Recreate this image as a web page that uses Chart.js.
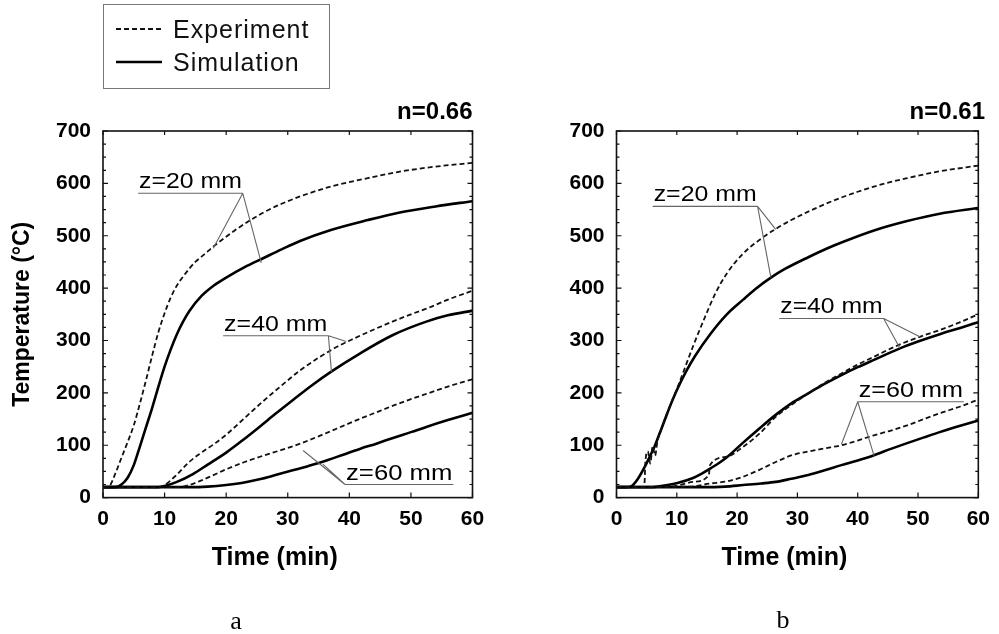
<!DOCTYPE html>
<html>
<head>
<meta charset="utf-8">
<script src="https://cdn.jsdelivr.net/npm/chart.js@4.4.1/dist/chart.umd.min.js"></script>
<style>
  body { margin: 0; background: #fff; }
  #page { position: relative; width: 999px; height: 634px; overflow: hidden; font-family: "Liberation Sans", Arial, sans-serif; }
  .panel { position: absolute; top: 0; }
  #legend { position: absolute; left: 103px; top: 4px; width: 227px; height: 85px; box-sizing: border-box; border: 1px solid #777; }
  .row { position: absolute; left: 12px; height: 30px; display: flex; align-items: center; font-size: 25px; letter-spacing: 1px; color: #111; }
  .row svg { margin-right: 11px; }
  .sub { position: absolute; font-family: "Liberation Serif", "Times New Roman", serif; font-size: 26px; transform: translate(-50%, -50%); }
</style>
</head>
<body>
<div id="page">
  <div class="panel" style="left:0;width:500px;height:634px"><canvas id="chartA" width="500" height="634"></canvas></div>
  <div class="panel" style="left:500px;width:499px;height:634px"><canvas id="chartB" width="499" height="634"></canvas></div>
  <div id="legend">
    <div class="row" style="top:9px"><svg width="46" height="4"><line x1="0" y1="2" x2="46" y2="2" stroke="#111" stroke-width="1.8" stroke-dasharray="5 3"/></svg>Experiment</div>
    <div class="row" style="top:42px"><svg width="46" height="4"><line x1="0" y1="2" x2="46" y2="2" stroke="#000" stroke-width="2.6"/></svg>Simulation</div>
  </div>
  <div class="sub" style="left:236px;top:621px">a</div>
  <div class="sub" style="left:783px;top:620px">b</div>
</div>
<script>
// time (min) / temperature (°C)

// panel a, n=0.66
const tExpA20 = [0, 1, 2, 3, 4, 5, 6, 7, 8, 9, 10, 11, 12, 13, 14, 15, 16.5, 18, 22, 26, 29, 32, 37, 43, 48, 54, 60];
const TExpA20 = [20, 22, 46, 76, 106, 138, 180, 225, 272, 316, 352, 382, 405, 422, 437, 450, 465, 480, 515, 544, 561, 575, 594, 610, 622, 632, 639];
const tSimA20 = [0, 2, 3, 4, 5, 6, 7, 8, 9, 10, 11, 12, 13, 14, 16, 18, 20, 23, 26, 29, 32, 37, 43, 48, 54, 60];
const TSimA20 = [20, 20, 25, 38, 62, 98, 135, 172, 212, 250, 283, 312, 336, 356, 385, 405, 420, 440, 457, 474, 490, 511, 530, 544, 556, 566];
const tExpA40 = [0, 9, 10, 12, 14, 16, 18, 20, 23, 26, 29, 32, 35, 38, 41, 44, 47, 50, 53, 56, 60];
const TExpA40 = [20, 20, 24, 44, 68, 86, 102, 120, 152, 184, 214, 243, 267, 288, 305, 321, 336, 350, 363, 378, 395];
const tSimA40 = [0, 9, 10, 12, 14.6, 17, 20, 22.5, 25.4, 28, 30.8, 34, 37, 41.7, 47, 52.5, 56, 60];
const TSimA40 = [20, 20, 22, 30, 45, 63, 86, 108, 135, 160, 186, 215, 240, 275, 310, 336, 348, 357];
const tExpA60 = [0, 12, 14, 17, 20, 23, 26, 29, 32, 35, 38, 41, 44, 47, 50, 53, 56, 60];
const TExpA60 = [20, 20, 24, 38, 54, 68, 80, 91, 103, 117, 132, 147, 161, 175, 188, 200, 212, 226];
const tSimA60 = [0, 14, 17, 20, 22.5, 25.4, 28, 30.8, 33.5, 36.3, 39, 41.7, 44.5, 47.1, 50, 52.5, 56, 60];
const TSimA60 = [20, 20, 21, 24, 28, 35, 43, 52, 61, 71, 82, 93, 103.5, 114, 125, 135, 148, 162];

// panel b, n=0.61
const tExpB20 = [0, 4.6, 4.8, 5.2, 5.6, 6.0, 6.4, 6.8, 7.4, 8, 10.1, 12.8, 14.5, 16.4, 18.3, 21, 23.7, 26.4, 29, 31.8, 34.5, 37.3, 40, 42.7, 48.2, 53.6, 60];
const TExpB20 = [20, 20, 70, 88, 65, 98, 80, 108, 129, 150, 210, 292, 340, 390, 428, 466, 492, 513, 530, 546, 560, 573, 584, 594, 610, 623, 634];
const tSimB20 = [0, 1.5, 2.5, 3.5, 4.7, 5.5, 6.3, 7, 8, 9, 10, 11.5, 13, 15.6, 18.3, 21, 23, 25.6, 28, 31.8, 35, 37.3, 42.7, 48.2, 53.6, 60];
const TSimB20 = [20, 20, 22, 35, 59, 78, 97, 118, 148, 178, 205, 240, 270, 313, 350, 378, 398, 420, 437, 459, 476, 487, 510, 528, 542, 553];
const tExpB40 = [0, 9, 12.8, 15.3, 15.5, 18.3, 21, 23.7, 26.4, 29, 31.8, 34.5, 37.3, 40, 42.7, 46.5, 50.3, 53.6, 57, 60];
const TExpB40 = [20, 21, 30, 43, 62, 78, 97, 122, 154, 177, 199, 219, 237, 254, 269, 290, 307, 320, 335, 350];
const tSimB40 = [0, 6, 7.4, 10.1, 12.8, 14, 15.6, 17, 18.3, 21, 23.7, 26.4, 29, 31.8, 34.5, 37.3, 40, 42.7, 47, 50, 53.6, 57, 60];
const TSimB40 = [20, 20, 22, 28, 38, 45, 56, 66, 77, 105, 132, 158, 180, 199, 217, 234, 249, 263, 285, 298, 312, 324, 335];
const tExpB60 = [0, 12, 15.6, 18.3, 21, 23.7, 26.4, 29.1, 31.8, 34.5, 37.3, 40, 42.7, 45.5, 48.2, 51, 53.6, 57, 60];
const TExpB60 = [20, 21, 27, 31, 40, 53, 68, 81, 88, 94, 100, 109, 119, 128, 138, 150, 161, 174, 187];
const tSimB60 = [0, 14, 18, 21, 24, 26.4, 29, 31.8, 34.5, 37.3, 40, 42.7, 45.5, 48.2, 51, 53.6, 57, 60];
const TSimB60 = [20, 20, 21, 24, 27, 30, 36, 43, 52, 62, 71, 81, 93, 104, 115, 125, 137, 147];

// axis ticks
const xTicks = [0, 10, 20, 30, 40, 50, 60];
const yTicks = [0, 100, 200, 300, 400, 500, 600, 700];

// curve labels: underline from..to at temperature "at", leader lines from the hub end to each curve
const notesA = [
  { text: 'z=20 mm', from: 5.7, to: 22.7, at: 581, hub: 'end', tips: [[17.9, 476], [25.7, 448]] },
  { text: 'z=40 mm', from: 19.5, to: 36.6, at: 309, hub: 'end', tips: [[39.5, 298], [37.1, 240]] },
  { text: 'z=60 mm', from: 39.3, to: 56.9, at: 25, hub: 'start', tips: [[32.5, 90], [35.7, 64]] }
];
const notesB = [
  { text: 'z=20 mm', from: 6.0, to: 23.4, at: 556, hub: 'end', tips: [[26.4, 512], [25.6, 420]] },
  { text: 'z=40 mm', from: 27, to: 44.3, at: 342, hub: 'end', tips: [[50.3, 307], [47, 285]] },
  { text: 'z=60 mm', from: 40, to: 57.6, at: 183, hub: 'start', tips: [[37.3, 102], [42.7, 80]] }
];

const FONT = '"Liberation Sans", Arial, sans-serif';
Chart.defaults.font.family = FONT;
Chart.defaults.color = '#000';

const pts = (t, T) => t.map((x, i) => ({ x: x, y: T[i] }));

function series(t, T, dashed) {
  return {
    data: pts(t, T),
    borderColor: dashed ? '#111' : '#000',
    borderWidth: dashed ? 1.8 : 2.6,
    borderDash: dashed ? [5, 3] : [],
    pointRadius: 0,
    cubicInterpolationMode: 'monotone',
    fill: false
  };
}

const notesFor = { chartA: notesA, chartB: notesB };

const frameTicks = {
  id: 'frameTicks',
  afterDatasetsDraw(chart) {
    const ctx = chart.ctx;
    const a = chart.chartArea;
    const x = chart.scales.x, y = chart.scales.y;
    ctx.save();
    ctx.strokeStyle = '#111';
    ctx.lineWidth = 1.6;
    ctx.strokeRect(a.left, a.top, a.right - a.left, a.bottom - a.top);

    // inward ticks on all four sides
    ctx.lineWidth = 1.2;
    ctx.beginPath();
    for (let v = yTicks[0]; v <= yTicks[yTicks.length - 1]; v += 25) {
      const py = y.getPixelForValue(v);
      const len = v % 100 === 0 ? 5 : 3;
      ctx.moveTo(a.left, py); ctx.lineTo(a.left + len, py);
      ctx.moveTo(a.right, py); ctx.lineTo(a.right - len, py);
    }
    xTicks.forEach(v => {
      const px = x.getPixelForValue(v);
      ctx.moveTo(px, a.bottom); ctx.lineTo(px, a.bottom - 5);
      ctx.moveTo(px, a.top); ctx.lineTo(px, a.top + 4);
    });
    ctx.stroke();

    // curve labels
    (notesFor[chart.canvas.id] || []).forEach(n => {
      const x0 = x.getPixelForValue(n.from), x1 = x.getPixelForValue(n.to);
      const yl = y.getPixelForValue(n.at);
      const hx = n.hub === 'end' ? x1 : x0;
      ctx.strokeStyle = '#666';
      ctx.lineWidth = 1.1;
      ctx.beginPath();
      ctx.moveTo(x0, yl); ctx.lineTo(x1, yl);
      n.tips.forEach(p => {
        ctx.moveTo(hx, yl);
        ctx.lineTo(x.getPixelForValue(p[0]), y.getPixelForValue(p[1]));
      });
      ctx.stroke();
      ctx.font = '22px ' + FONT;
      const w = ctx.measureText(n.text).width;
      ctx.save();
      ctx.translate(x0 + 1, yl - 5);
      ctx.scale((x1 - x0 - 2) / w, 1);
      ctx.fillStyle = '#000';
      ctx.textAlign = 'left';
      ctx.textBaseline = 'alphabetic';
      ctx.fillText(n.text, 0, 0);
      ctx.restore();
    });

    // x axis title
    ctx.font = 'bold 25px ' + FONT;
    ctx.fillStyle = '#000';
    ctx.textAlign = 'center';
    ctx.textBaseline = 'middle';
    ctx.fillText('Time (min)', (a.left + a.right) / 2 - 13, a.bottom + 61);
    ctx.restore();
  }
};

function createChart(id, datasets, title, yWidth, padRight, yTitle) {
  return new Chart(document.getElementById(id), {
    type: 'line',
    data: { datasets: datasets },
    options: {
      responsive: false,
      animation: false,
      layout: { padding: { left: 0, right: padRight, top: 97.6, bottom: 0 } },
      plugins: {
        legend: { display: false },
        tooltip: { enabled: false },
        title: {
          display: true,
          text: title,
          align: 'end',
          color: '#000',
          font: { size: 24, weight: 'bold' },
          padding: { top: 0, bottom: 4.6 }
        }
      },
      scales: {
        x: {
          type: 'linear',
          min: 0,
          max: 60,
          afterFit: s => { s.height = 136.4; },
          afterBuildTicks: s => { s.ticks = xTicks.map(v => ({ value: v })); },
          ticks: { padding: 9, color: '#000', font: { size: 21, weight: 'bold' } },
          grid: { display: false, drawTicks: false },
          border: { display: false }
        },
        y: {
          type: 'linear',
          min: 0,
          max: 700,
          afterFit: s => { s.width = yWidth; },
          afterBuildTicks: s => { s.ticks = yTicks.map(v => ({ value: v })); },
          ticks: { padding: 12, color: '#000', font: { size: 21, weight: 'bold' } },
          grid: { display: false, drawTicks: false },
          border: { display: false },
          title: {
            display: !!yTitle,
            text: yTitle || '',
            color: '#000',
            font: { size: 23, weight: 'bold' },
            padding: { top: 9, bottom: 0 }
          }
        }
      }
    },
    plugins: [frameTicks]
  });
}

createChart('chartA', [
  series(tExpA20, TExpA20, true), series(tSimA20, TSimA20, false),
  series(tExpA40, TExpA40, true), series(tSimA40, TSimA40, false),
  series(tExpA60, TExpA60, true), series(tSimA60, TSimA60, false)
], 'n=0.66', 103, 27.5, 'Temperature (°C)');

createChart('chartB', [
  series(tExpB20, TExpB20, true), series(tSimB20, TSimB20, false),
  series(tExpB40, TExpB40, true), series(tSimB40, TSimB40, false),
  series(tExpB60, TExpB60, true), series(tSimB60, TSimB60, false)
], 'n=0.61', 116.5, 14, null);
</script>
</body>
</html>
